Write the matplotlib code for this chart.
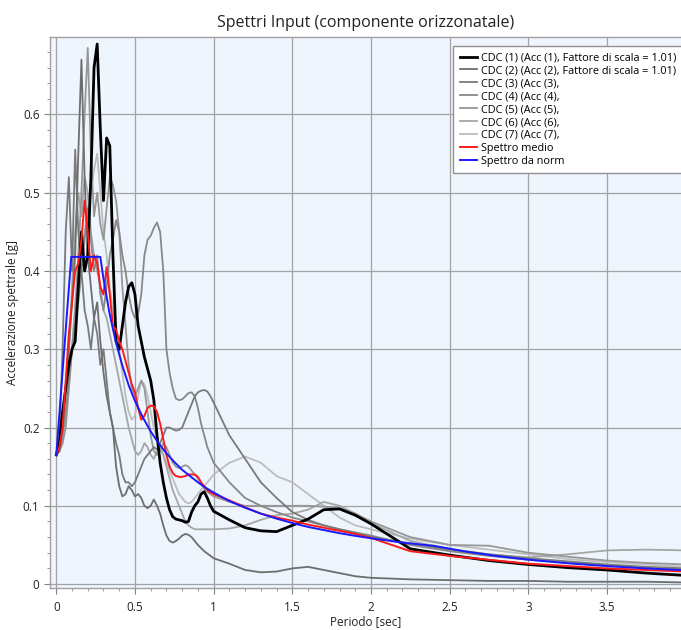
import matplotlib
matplotlib.use("Agg")
import matplotlib.pyplot as plt
from matplotlib.ticker import MultipleLocator

plt.rcParams['font.family'] = ['Open Sans', 'DejaVu Sans']

# Common period grid (s)
periods = [0.00, 0.02, 0.04, 0.06, 0.08, 0.10, 0.12, 0.14, 0.16, 0.18,
           0.20, 0.22, 0.24, 0.26, 0.28, 0.30, 0.32, 0.34, 0.36, 0.38,
           0.40, 0.42, 0.44, 0.46, 0.48, 0.50, 0.52, 0.54, 0.56, 0.58,
           0.60, 0.62, 0.64, 0.66, 0.68, 0.70, 0.72, 0.74, 0.76, 0.78,
           0.80, 0.82, 0.84, 0.86, 0.88, 0.90, 0.92, 0.94, 0.96, 0.98,
           1.00, 1.1, 1.2, 1.3, 1.4, 1.5, 1.6, 1.7, 1.8, 1.9,
           2.0, 2.25, 2.5, 2.75, 3.0, 3.25, 3.5, 3.75, 4.0]

cdc1 = [0.165, 0.18, 0.22, 0.25, 0.28, 0.30, 0.31, 0.38, 0.45, 0.40,
        0.42, 0.52, 0.66, 0.69, 0.58, 0.49, 0.57, 0.56, 0.42, 0.31,
        0.30, 0.33, 0.36, 0.38, 0.385, 0.37, 0.33, 0.31, 0.29, 0.275,
        0.26, 0.235, 0.19, 0.155, 0.13, 0.11, 0.095, 0.086, 0.083, 0.082,
        0.081, 0.079, 0.080, 0.092, 0.100, 0.105, 0.115, 0.118, 0.110, 0.100,
        0.093, 0.082, 0.072, 0.068, 0.067, 0.075, 0.083, 0.095, 0.096, 0.088,
        0.077, 0.045, 0.037, 0.030, 0.025, 0.021, 0.018, 0.014, 0.011]

cdc2 = [0.165, 0.17, 0.20, 0.25, 0.30, 0.36, 0.42, 0.55, 0.67, 0.52,
        0.42, 0.38, 0.34, 0.36, 0.31, 0.27, 0.24, 0.22, 0.20, 0.15,
        0.125, 0.112, 0.115, 0.125, 0.120, 0.112, 0.115, 0.110, 0.100, 0.097,
        0.100, 0.108, 0.100, 0.090, 0.075, 0.062, 0.055, 0.053, 0.055, 0.058,
        0.062, 0.064, 0.063, 0.060, 0.055, 0.050, 0.046, 0.042, 0.039, 0.036,
        0.033, 0.026, 0.018, 0.015, 0.016, 0.020, 0.022, 0.018, 0.014, 0.010,
        0.008, 0.006, 0.005, 0.004, 0.004, 0.003, 0.003, 0.003, 0.002]

cdc3 = [0.165, 0.19, 0.30, 0.45, 0.52, 0.40, 0.555, 0.45, 0.40, 0.35,
        0.33, 0.30, 0.34, 0.32, 0.28, 0.30, 0.26, 0.22, 0.20, 0.18,
        0.165, 0.14, 0.13, 0.13, 0.125, 0.13, 0.14, 0.15, 0.16, 0.165,
        0.17, 0.175, 0.172, 0.18, 0.19, 0.20, 0.20, 0.198, 0.196, 0.197,
        0.20, 0.21, 0.22, 0.23, 0.24, 0.245, 0.247, 0.248, 0.246, 0.24,
        0.232, 0.19, 0.16, 0.13, 0.11, 0.092, 0.082, 0.075, 0.070, 0.065,
        0.060, 0.052, 0.044, 0.038, 0.033, 0.029, 0.025, 0.022, 0.020]

cdc4 = [0.165, 0.17, 0.19, 0.22, 0.26, 0.30, 0.33, 0.36, 0.40, 0.44,
        0.48, 0.44, 0.40, 0.42, 0.37, 0.35, 0.38, 0.42, 0.44, 0.465,
        0.45, 0.42, 0.40, 0.37, 0.35, 0.34, 0.345, 0.37, 0.42, 0.44,
        0.445, 0.455, 0.462, 0.45, 0.40, 0.30, 0.27, 0.25, 0.237, 0.235,
        0.236, 0.24, 0.244, 0.245, 0.24, 0.225, 0.205, 0.19, 0.175, 0.165,
        0.155, 0.13, 0.11, 0.10, 0.092, 0.085, 0.080, 0.075, 0.070, 0.066,
        0.062, 0.050, 0.042, 0.036, 0.031, 0.027, 0.024, 0.021, 0.019]

cdc5 = [0.165, 0.17, 0.18, 0.20, 0.25, 0.30, 0.35, 0.42, 0.50, 0.60,
        0.685, 0.55, 0.47, 0.50, 0.46, 0.44, 0.48, 0.52, 0.51, 0.49,
        0.45, 0.38, 0.33, 0.28, 0.25, 0.24, 0.25, 0.26, 0.25, 0.22,
        0.19, 0.17, 0.165, 0.17, 0.18, 0.175, 0.165, 0.155, 0.15, 0.148,
        0.15, 0.152, 0.15, 0.145, 0.14, 0.135, 0.128, 0.122, 0.118, 0.115,
        0.112, 0.105, 0.100, 0.100, 0.100, 0.100, 0.100, 0.099, 0.097, 0.090,
        0.080, 0.060, 0.050, 0.049, 0.040, 0.035, 0.030, 0.027, 0.025]

cdc6 = [0.165, 0.17, 0.19, 0.24, 0.30, 0.38, 0.45, 0.50, 0.47, 0.52,
        0.50, 0.45, 0.42, 0.40, 0.38, 0.35, 0.34, 0.32, 0.30, 0.28,
        0.26, 0.24, 0.22, 0.20, 0.185, 0.17, 0.165, 0.17, 0.18, 0.175,
        0.165, 0.16, 0.17, 0.175, 0.165, 0.15, 0.135, 0.12, 0.11, 0.10,
        0.09, 0.08, 0.075, 0.072, 0.070, 0.070, 0.070, 0.070, 0.070, 0.070,
        0.070, 0.071, 0.075, 0.082, 0.088, 0.090, 0.095, 0.105, 0.100, 0.090,
        0.078, 0.055, 0.045, 0.038, 0.034, 0.038, 0.043, 0.044, 0.043]

cdc7 = [0.165, 0.17, 0.18, 0.21, 0.25, 0.30, 0.36, 0.40, 0.43, 0.45,
        0.48, 0.50, 0.53, 0.55, 0.50, 0.45, 0.42, 0.38, 0.35, 0.33,
        0.30, 0.27, 0.24, 0.22, 0.21, 0.215, 0.24, 0.26, 0.255, 0.24,
        0.22, 0.20, 0.185, 0.175, 0.165, 0.155, 0.145, 0.135, 0.125, 0.115,
        0.11, 0.105, 0.103, 0.105, 0.11, 0.115, 0.12, 0.125, 0.13, 0.135,
        0.14, 0.155, 0.163, 0.155, 0.138, 0.13, 0.115, 0.10, 0.085, 0.075,
        0.070, 0.058, 0.050, 0.044, 0.038, 0.032, 0.028, 0.025, 0.022]

spettro_medio = [0.165, 0.175, 0.20, 0.26, 0.32, 0.36, 0.40, 0.41, 0.44, 0.49,
                 0.45, 0.40, 0.42, 0.41, 0.38, 0.37, 0.405, 0.37, 0.33, 0.325,
                 0.31, 0.30, 0.285, 0.27, 0.255, 0.245, 0.225, 0.21, 0.215, 0.225,
                 0.228, 0.227, 0.22, 0.205, 0.185, 0.165, 0.15, 0.142, 0.138, 0.137,
                 0.137, 0.138, 0.14, 0.14, 0.14, 0.137, 0.13, 0.125, 0.12, 0.117,
                 0.115, 0.107, 0.098, 0.090, 0.085, 0.081, 0.076, 0.072, 0.068, 0.064,
                 0.059, 0.042, 0.036, 0.031, 0.026, 0.023, 0.020, 0.018, 0.016]

# Code spectrum (own period points)
periods_norm = [0.0, 0.095, 0.28, 0.30, 0.34, 0.38, 0.42, 0.46, 0.50, 0.55,
                0.60, 0.65, 0.70, 0.75, 0.80, 0.85, 0.90, 0.95, 1.0, 1.1,
                1.2, 1.3, 1.4, 1.5, 1.6, 1.7, 1.8, 1.9, 2.0, 2.2,
                2.4, 2.6, 2.8, 3.0, 3.25, 3.5, 3.75, 4.0]
spettro_norm = [0.165, 0.418, 0.418, 0.390, 0.344, 0.308, 0.279, 0.254, 0.234, 0.213,
                0.195, 0.180, 0.167, 0.156, 0.146, 0.138, 0.130, 0.123, 0.117, 0.106,
                0.0975, 0.090, 0.0836, 0.078, 0.073, 0.069, 0.065, 0.0616, 0.0585, 0.053,
                0.0488, 0.0416, 0.0358, 0.0312, 0.0266, 0.0229, 0.0200, 0.0176]

labels = ["CDC (1) (Acc (1), Fattore di scala = 1.01)",
          "CDC (2) (Acc (2), Fattore di scala = 1.01)",
          "CDC (3) (Acc (3),",
          "CDC (4) (Acc (4),",
          "CDC (5) (Acc (5),",
          "CDC (6) (Acc (6),",
          "CDC (7) (Acc (7),",
          "Spettro medio",
          "Spettro da norm"]

records = [cdc1, cdc2, cdc3, cdc4, cdc5, cdc6, cdc7]
colors = ['#000000', '#6e6e6e', '#7a7a7a', '#888888', '#979797', '#a6a6a6', '#bdbdbd']
widths = [2.0, 1.3, 1.3, 1.3, 1.3, 1.3, 1.3]

fig = plt.figure(figsize=(6.81, 6.30), dpi=100)
ax = fig.add_axes([0.0734, 0.0667, 0.9266, 0.8746])
ax.set_facecolor('#eef5fd')

handles = [None] * 9
for i in range(6, -1, -1):
    h, = ax.plot(periods, records[i], color=colors[i], lw=widths[i],
                 zorder=3 + (7 - i) * 0.1 if i else 4, label=labels[i])
    handles[i] = h
h, = ax.plot(periods, spettro_medio, color='#ff1a1a', lw=1.4, zorder=5, label=labels[7])
handles[7] = h
h, = ax.plot(periods_norm, spettro_norm, color='#1a1aff', lw=1.4, zorder=6, label=labels[8])
handles[8] = h

ax.set_xlim(-0.04, 3.97)
ax.set_ylim(-0.005, 0.699)
ax.xaxis.set_major_locator(MultipleLocator(0.5))
ax.xaxis.set_minor_locator(MultipleLocator(0.1))
ax.yaxis.set_major_locator(MultipleLocator(0.1))
ax.yaxis.set_minor_locator(MultipleLocator(0.02))
ax.xaxis.set_major_formatter(plt.FuncFormatter(lambda v, p: ('%g' % v)))
ax.yaxis.set_major_formatter(plt.FuncFormatter(lambda v, p: ('%g' % v)))
ax.grid(True, which='major', color='#a3a3a3', lw=0.9, zorder=1)
ax.set_axisbelow(True)

for s in ['left', 'bottom', 'top']:
    ax.spines[s].set_color('#a0a0a0')
    ax.spines[s].set_linewidth(1.0)
ax.spines['right'].set_visible(False)
ax.tick_params(which='major', length=4.5, color='#808080', labelsize=8.5, labelcolor='#222222', pad=3)
ax.tick_params(axis='x', which='major', pad=5)
ax.tick_params(which='minor', length=2.5, color='#808080')

ax.set_xlabel("Periodo [sec]", fontsize=8.5, color='#222222', labelpad=1)
ax.set_ylabel("Accelerazione spettrale [g]", fontsize=8.5, color='#222222', labelpad=3)
ax.set_title("Spettri Input (componente orizzonatale)", fontsize=11.5, color='#222222', pad=7)

leg = ax.legend(handles=handles, loc='upper left', bbox_to_anchor=(0.6387, 0.984),
                fontsize=7.8, frameon=True, fancybox=False, framealpha=1.0,
                edgecolor='#909090', handlelength=1.6, handletextpad=0.4,
                labelspacing=0.18, borderpad=0.6, borderaxespad=0.0)
leg.get_frame().set_linewidth(1.0)
leg.set_zorder(10)

fig.savefig('out.png', dpi=100)
